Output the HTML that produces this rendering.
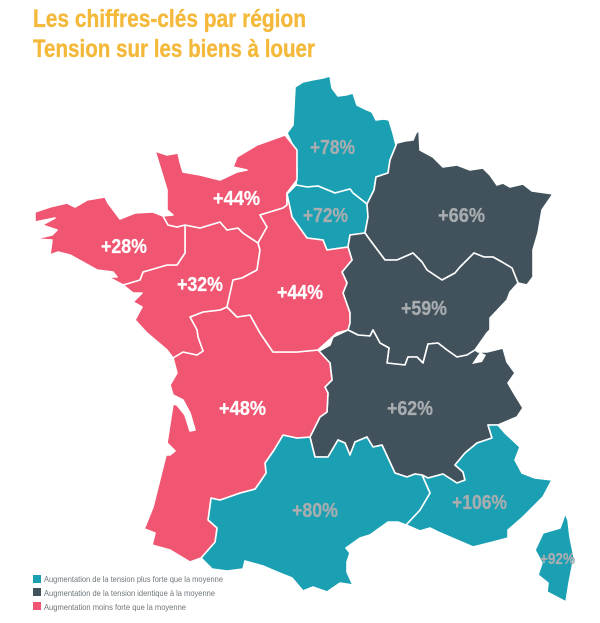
<!DOCTYPE html>
<html lang="fr">
<head>
<meta charset="utf-8">
<title>Tension sur les biens à louer</title>
<style>
html,body{margin:0;padding:0;background:#fff;width:600px;height:623px;overflow:hidden}
svg{display:block}
text{font-family:"Liberation Sans",sans-serif}
.region{stroke:#fff;stroke-width:1.6;stroke-linejoin:round}
.val{font-weight:700;font-size:20px;stroke:currentColor;stroke-width:.25}
.ttl{font-weight:700;font-size:25px;fill:#f4b93a;stroke:#f4b93a;stroke-width:.35}
.lg{font-size:8.5px;fill:#6f767b}
</style>
</head>
<body>
<svg id="map" width="600" height="623" viewBox="0 0 600 623" xmlns="http://www.w3.org/2000/svg">
<rect width="600" height="623" fill="#fff"/>
<text class="ttl" x="33" y="27" textLength="273" lengthAdjust="spacingAndGlyphs">Les chiffres-clés par région</text>
<text class="ttl" x="33" y="57" textLength="282" lengthAdjust="spacingAndGlyphs">Tension sur les biens à louer</text>

<path class="region" id="r-hdf" d="M295,87L303,82L312,80L323,78L330,76L332,88L338,96L346,95L353,93L357,105L365,109L372,112L376,120L384,119L389,120L393,133L396,145L390,160L388,173L376,177L374,190L367,204L353,193L350,189L335,193L318,186L307,187L296,185L297,170L295,150L287,133L293,125L294,107Z"/>
<path class="region" id="r-idf" d="M287,194L296,185L307,187L318,186L335,193L350,189L353,193L367,204L368,217L365,233L350,235L348,247L327,250L323,240L307,238L292,217Z"/>
<path class="region" id="r-ges" d="M397,143L405,141L413,140L416,133L419,130L420,150L433,157L443,167L457,165L470,170L483,168L490,175L497,185L503,183L510,187L523,184L532,191L553,194L542,210L538,233L533,250L533,277L527,285L518,283L512,268L502,262L493,257L484,257L474,253L460,267L455,273L442,280L427,270L422,262L413,253L397,260L385,260L370,240L365,233L368,217L367,204L374,190L376,177L388,173L390,160Z"/>
<path class="region" id="r-bfc" d="M350,235L365,233L370,240L385,260L397,260L413,253L422,262L427,270L442,280L455,273L460,267L474,253L484,257L493,257L502,262L512,268L518,283L510,292L507,300L490,318L490,330L487,333L475,350L467,355L457,357L447,350L438,343L428,344L423,363L417,357L408,357L405,365L387,363L389,348L380,343L373,330L370,336L358,335L348,330L350,313L343,293L347,283L342,272L352,260L348,247Z"/>
<path class="region" id="r-ara" d="M348,330L333,337L330,345L319,351L330,363L332,380L325,387L328,393L327,412L320,417L310,437L315,457L328,457L338,440L345,443L350,455L355,442L367,437L373,447L382,445L395,473L407,477L415,474L422,475L428,478L443,474L457,483L465,480L463,472L455,465L465,453L477,443L492,438L488,425L498,425L517,417L523,408L515,395L508,383L515,373L507,362L503,348L487,352L478,352L475,350L467,355L457,357L447,350L438,343L428,344L423,363L417,357L408,357L405,365L387,363L389,348L380,343L373,330L370,336L358,335Z"/>
<path class="region" id="r-pac" d="M492,438L488,425L498,425L505,433L520,447L515,460L522,473L535,478L552,480L543,497L523,517L508,530L508,538L493,542L473,547L452,538L438,532L430,528L420,531L406,525L420,510L430,493L422,475L428,478L443,474L457,483L465,480L463,472L455,465L465,453L477,443Z"/>
<path class="region" id="r-cor" d="M565,513L568,520L570,537L574,557L569,583L566,602L547,592L548,583L538,575L542,563L535,550L543,533L560,528L563,520Z"/>
<path class="region" id="r-occ" d="M211,498L220,500L240,493L255,489L260,482L266,473L265,463L274,450L283,435L297,438L310,437L315,457L328,457L338,440L345,443L350,455L355,442L367,437L373,447L382,445L395,473L407,477L415,474L422,475L430,493L420,510L406,525L398,522L388,522L370,535L360,538L346,548L350,553L347,562L347,572L353,585L340,583L327,592L313,587L303,591L292,578L277,572L263,566L245,561L243,569L227,571L212,569L201,558L215,542L217,528L208,520Z"/>
<path class="region" id="r-naq" d="M173,358L183,352L197,355L203,351L198,337L197,330L190,317L203,312L220,310L227,307L237,317L250,315L260,333L273,352L297,352L318,350L330,363L332,380L325,387L328,393L327,412L320,417L310,437L297,438L283,435L274,450L265,463L266,473L260,482L255,489L240,493L220,500L211,498L208,520L217,528L215,542L201,558L190,562L170,550L152,545L155,533L142,528L145,527L153,507L166,455L170,455L175,451L167,443L173,404L177,405L185,415L190,431L195,430L190,413L183,400L173,395L170,385L177,373Z"/>
<path class="region" id="r-pdl" d="M123,285L133,293L142,293L133,302L142,307L135,320L147,333L167,350L173,358L183,352L197,355L203,351L198,337L197,330L190,317L203,312L220,310L227,307L233,280L242,278L257,270L260,250L258,243L243,233L238,228L227,230L220,222L200,228L185,225L185,253L177,265L167,265L143,272L140,280Z"/>
<path class="region" id="r-bre" d="M123,285L140,280L143,272L167,265L177,265L185,253L185,225L177,227L168,225L163,216L153,212L135,213L120,219L108,203L105,197L87,200L75,207L67,203L50,207L35,212L35,222L55,218L42,225L57,230L52,235L35,239L52,240L50,255L58,252L70,255L97,270L113,272L117,277L108,277Z"/>
<path class="region" id="r-nor" d="M155,151L167,155L178,153L180,162L183,172L200,175L220,180L237,172L247,170L233,167L237,157L257,145L285,135L297,150L297,180L287,193L287,205L283,208L260,215L267,227L258,243L243,233L238,228L227,230L220,222L200,228L185,225L177,227L168,225L163,216L173,215L167,210L167,190L160,167Z"/>
<path class="region" id="r-cvl" d="M260,215L283,208L287,205L287,194L292,217L307,238L323,240L327,250L348,247L352,260L342,272L347,283L343,293L350,313L350,323L348,330L337,333L318,350L297,352L273,352L260,333L250,315L237,317L227,307L233,280L242,278L257,270L260,250L258,243L267,227Z"/>
<path fill="#fff" d="M472,364L480,352L486,355L482,362Z"/>

<text class="val" id="v-hdf" x="310" y="154" textLength="45" lengthAdjust="spacingAndGlyphs">+78%</text>
<text class="val" id="v-idf" x="303" y="222" textLength="45" lengthAdjust="spacingAndGlyphs">+72%</text>
<text class="val" id="v-ges" x="438" y="222" textLength="47" lengthAdjust="spacingAndGlyphs">+66%</text>
<text class="val" id="v-bfc" x="401" y="315" textLength="46" lengthAdjust="spacingAndGlyphs">+59%</text>
<text class="val" id="v-ara" x="387" y="415" textLength="46" lengthAdjust="spacingAndGlyphs">+62%</text>
<text class="val" id="v-pac" x="452" y="509" textLength="55" lengthAdjust="spacingAndGlyphs">+106%</text>
<text class="val" id="v-cor" x="540" y="564" textLength="35" lengthAdjust="spacingAndGlyphs" style="font-size:16px">+92%</text>
<text class="val" id="v-occ" x="292" y="517" textLength="46" lengthAdjust="spacingAndGlyphs">+80%</text>
<text class="val" id="v-naq" x="219" y="415" textLength="47" lengthAdjust="spacingAndGlyphs">+48%</text>
<text class="val" id="v-pdl" x="177" y="291" textLength="46" lengthAdjust="spacingAndGlyphs">+32%</text>
<text class="val" id="v-bre" x="101" y="253" textLength="46" lengthAdjust="spacingAndGlyphs">+28%</text>
<text class="val" id="v-nor" x="213" y="205" textLength="47" lengthAdjust="spacingAndGlyphs">+44%</text>
<text class="val" id="v-cvl" x="277" y="299" textLength="46" lengthAdjust="spacingAndGlyphs">+44%</text>

<g>
<rect x="33" y="575" width="8" height="8" fill="#1ba0b3"/>
<text class="lg" x="44" y="582" textLength="179" lengthAdjust="spacingAndGlyphs">Augmentation de la tension plus forte que la moyenne</text>
<rect x="33" y="588" width="8" height="8" fill="#42525c"/>
<text class="lg" x="44" y="596" textLength="171" lengthAdjust="spacingAndGlyphs">Augmentation de la tension identique à la moyenne</text>
<rect x="33" y="602" width="8" height="8" fill="#f05672"/>
<text class="lg" x="44" y="610" textLength="142" lengthAdjust="spacingAndGlyphs">Augmentation moins forte que la moyenne</text>
</g>
</svg>
<script>
var regionIds = ['hdf','idf','ges','bfc','ara','pac','cor','occ','naq','pdl','bre','nor','cvl'];
var regionValues = [78,72,66,59,62,106,92,80,48,32,28,44,44];
var classThresholds = [50,70];
var classColours = ['#f05672','#42525c','#1ba0b3'];
var labelColours = ['#ffffff','#a9adb0','#a9adb0'];

function classOf(v){
  var c = 0;
  classThresholds.forEach(function(t){ if (v >= t) c++; });
  return c;
}
regionIds.forEach(function(id, i){
  var v = regionValues[i];
  var c = classOf(v);
  document.getElementById('r-' + id).setAttribute('fill', classColours[c]);
  var t = document.getElementById('v-' + id);
  t.setAttribute('fill', labelColours[c]);
  t.style.color = labelColours[c];
  t.textContent = '+' + v + '%';
});
</script>
</body>
</html>
